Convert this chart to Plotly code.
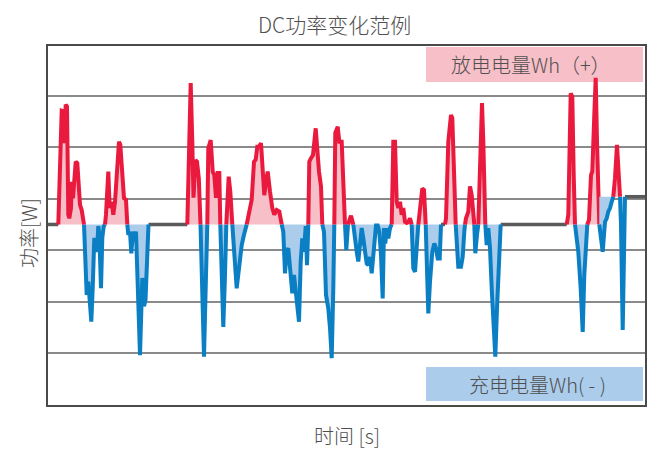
import plotly.graph_objects as go

# time [s] / power [W]
time_s = [
    0, 10.3, 13.7, 15.3, 16.3, 17.7, 19.0, 20.3, 21.3, 23.0, 23.7, 25.0, 26.3, 27.7, 29.3, 31.0, 32.0, 33.7,
    36.0, 38.0, 38.7, 40.3, 41.3, 43.3, 44.7, 46.3, 47.7, 49.3, 50.3, 51.3, 53.0, 54.3, 55.7,
    57.0, 58.0, 60.3, 61.7, 63.7, 65.3, 67.0, 69.3, 71.0, 72.3, 74.3, 76.0, 78.0,
    79.3, 80.3, 82.0, 83.3, 85.0, 86.3, 88.0, 89.7, 92.0, 94.3, 96.0, 97.5, 98.7,
    100.5, 139.3, 142.7, 144.3, 145.5, 147.5, 149.0, 150.8,
    152.5, 153.7, 156.0, 158.0,
    159.3, 160.3, 162.7, 164.7, 166.3, 168.0, 169.7, 171.3,
    172.3, 173.7, 175.3, 177.0,
    178.3, 179.7, 180.7, 182.3,
    184.3, 186.3, 188.7, 191.0, 193.7, 196.0,
    198.7, 202.0, 203.7, 206.0, 207.7, 209.3, 211.0, 213.0, 214.3, 216.3, 218.0, 219.7, 222.0, 224.3, 226.3, 228.7, 231.3,
    233.7, 235.3, 237.0, 238.7, 240.3, 242.7, 244.3, 246.0, 247.7, 249.3, 251.0, 252.7, 254.3, 256.0, 257.7, 259.0,
    260.3, 261.3, 263.0, 265.0, 267.7, 269.3, 271.0, 273.0,
    274.3, 276.0, 278.0, 280.3, 282.0, 283.7, 285.3,
    286.3, 287.3, 289.7, 291.3, 293.7, 295.3,
    297.0, 298.3, 300.0, 303.0, 305.3,
    307.0, 308.7, 310.3, 312.0, 313.7, 315.3, 317.0, 318.7, 320.3, 322.0, 323.7, 325.3, 326.3, 328.0, 329.7,
    331.3, 333.0, 334.7, 336.0, 337.3, 338.7, 340.3, 342.0,
    343.7, 345.3, 347.0, 348.7, 350.3, 352.0, 353.7, 355.3, 357.0, 358.7, 360.3, 362.0,
    363.7, 365.3, 367.0, 368.7,
    370.3, 372.0, 374.3, 376.0,
    377.7, 379.0, 380.3, 382.0, 384.3, 386.3, 388.0, 389.7, 391.7,
    393.0, 397.0, 398.0, 400.3, 402.0, 403.0, 404.3, 406.0,
    407.7, 409.0, 410.3, 413.0, 414.7, 416.3,
    417.0, 418.0, 420.3, 422.0, 423.7, 425.3,
    426.3, 427.3, 429.0,
    430.3, 432.0, 434.0, 435.3, 436.7,
    437.3, 438.7, 440.3, 442.0, 443.7, 445.7, 447.3, 449.0, 451.0,
    452.7, 518.7, 520.3, 522.7, 524.3, 525.7,
    527.0, 528.7, 530.3, 532.7, 534.7, 536.3, 538.0,
    539.3, 541.0, 543.0, 544.3, 546.3, 547.7, 549.0, 550.3, 551.3,
]
power_w = [
    0, 0, 221, 220, 158, 233, 229, 19, 12, 32, 83, 51, 77, 122, 119, 70, 38, 28,
    0, -112, -137, -111, -137, -189, -124, -26, -53, -40, -3, -20, -124, -26, -4,
    0, 19, 103, 32, 44, 19, 44, 122, 161, 155, 96, 51, 48,
    0, -20, -14, -56, -14, -26, -14, -98, -254, -104, -159, -147, -73,
    0, 0, 275, 160, 52, 125, 122, 90,
    0, -98, -257, -98,
    0, 148, 164, 103, 96, 52, 100, 100,
    0, -98, -199, -98,
    0, 44, 93, 64,
    0, -72, -124, -85, -40, -20,
    0, 28, 48, 122, 126, 151, 151, 158, 103, 57, 83, 103, 64, 32, 19, 28, 25,
    0, -14, -95, -53, -46, -98, -134, -98, -124, -150, -189, -72, -27, -53, -3, -79,
    0, 122, 129, 135, 187, 142, 103, 74,
    0, -14, -137, -163, -201, -260, -124,
    0, 178, 190, 161, 161, 96,
    0, -50, 0, 17, 0,
    -34, -53, -72, -40, -7, -27, -46, -76, -79, -63, -95, -59, -27, -2, -2,
    -14, -59, -144, -7, -37, -7, -27, -7,
    0, 161, 161, 44, 32, 44, 19, 32, 5, 3, 5, 12,
    0, -85, -92, -40,
    0, 32, 70, 67,
    0, -111, -173, -111, -53, -37, -46, -66, -66,
    0, 0, 12, 161, 213, 213, 207, 96,
    0, -59, -82, -82, -63, -14,
    0, 12, 25, 74, 57, 12,
    0, -56, -20,
    0, 122, 236, 161, 19,
    0, -40, -7, -46, -124, -202, -257, -163, -46,
    0, 0, 19, 255, 249, 96,
    0, -27, -53, -124, -209, -98, -40,
    0, 9, 96, 103, 213, 285, 161, 32, 0,
]

# last stretch sits on a raised base level
tail_base_w = 54
tail_time_s = [551.3, 554.7, 557.0, 558.7, 560.3, 562.0, 563.7, 565.3, 567.0, 569.0, 570.3,
               572.0, 573.0, 574.7, 576.3, 577.0, 600.0]
tail_power_w = [0, -53, 5, 12, 25, 32, 44, 54, 90, 155, 96,
                54, -1, -205, -72, 54, 54]

grid_w = [-250, -150, -50, 50, 150, 250]

RED = "#ea1a3f"
BLUE = "#0a7fc4"
PINK = "#f7bfc7"
LIGHT_BLUE = "#abcdeb"
GREY = "#5a5a5a"
TEXT = "#505050"
FONT = "Noto Sans CJK SC"

# the page body has an 8px margin, so the figure is shrunk by that much
OFF = 8
W, H = 669 - OFF, 452 - OFF
# plot area in window pixels
L, R, T, B = 48, 645, 46, 405


def px(x):
    return (x - L) / (R - L)


def py(y):
    return (B - y) / (B - T)


def add_segment(fig, t, p, base):
    xs, ys = [t[0]], [p[0]]
    for i in range(1, len(t)):
        a, b = p[i - 1] - base, p[i] - base
        if a * b < 0:
            xs.append(t[i - 1] + (t[i] - t[i - 1]) * a / (a - b))
            ys.append(base)
        xs.append(t[i])
        ys.append(p[i])
    n = len(xs)
    up = [max(v, base) for v in ys]
    dn = [min(v, base) for v in ys]
    for part, col in ((up, PINK), (dn, LIGHT_BLUE)):
        fig.add_trace(go.Scatter(x=xs, y=[base] * n, mode="lines", line=dict(width=0),
                                 hoverinfo="skip", showlegend=False))
        fig.add_trace(go.Scatter(x=xs, y=part, mode="lines", line=dict(width=0), fill="tonexty",
                                 fillcolor=col, hoverinfo="skip", showlegend=False))

    def pick(test):
        out = []
        for i, v in enumerate(ys):
            nb = [ys[j] for j in (i - 1, i + 1) if 0 <= j < n]
            keep = test(v) or (v == base and any(test(u) for u in nb))
            out.append(v if keep else None)
        return out

    flat = [v if (v == base and any(ys[j] == base for j in (i - 1, i + 1) if 0 <= j < n)) else None
            for i, v in enumerate(ys)]
    fig.add_trace(go.Scatter(x=xs, y=flat, mode="lines", line=dict(color=GREY, width=3.5),
                             hoverinfo="skip", showlegend=False))
    fig.add_trace(go.Scatter(x=xs, y=pick(lambda v: v < base), mode="lines",
                             line=dict(color=BLUE, width=4), showlegend=False))
    fig.add_trace(go.Scatter(x=xs, y=pick(lambda v: v > base), mode="lines",
                             line=dict(color=RED, width=4), showlegend=False))


fig = go.Figure()
add_segment(fig, time_s, power_w, 0)
add_segment(fig, tail_time_s, tail_power_w, tail_base_w)

label = dict(xref="paper", yref="paper", xanchor="center", yanchor="middle", showarrow=False)
fig.update_layout(
    width=W, height=H,
    margin=dict(l=L - OFF, r=W - (R - OFF), t=T - OFF, b=H - (B - OFF), pad=0),
    paper_bgcolor="white", plot_bgcolor="white",
    font=dict(family=FONT, color=TEXT, size=20),
    shapes=[
        dict(type="rect", xref="paper", yref="paper", x0=px(426), x1=px(643), y0=py(82), y1=py(47),
             fillcolor=PINK, line=dict(width=0), layer="below"),
        dict(type="rect", xref="paper", yref="paper", x0=px(426), x1=px(643), y0=py(401), y1=py(367),
             fillcolor=LIGHT_BLUE, line=dict(width=0), layer="below"),
    ],
    annotations=[
        dict(text="DC功率变化范例", x=px(334.5), y=py(24), font=dict(size=21, weight=300), **label),
        dict(text="放电电量Wh（+）", x=px(531), y=py(65), font=dict(size=20, weight=300), **label),
        dict(text="充电电量Wh( - )", x=px(537), y=py(384), font=dict(size=20, weight=300), **label),
        dict(text="时间 [s]", x=px(347), y=py(435), font=dict(size=20, weight=300), **label),
        dict(text="功率[W]", x=px(28), y=py(233), textangle=-90, font=dict(size=20, weight=300), **label),
    ],
)
fig.update_xaxes(range=[0, 597], showgrid=False, zeroline=False, showticklabels=False, ticks="",
                 showline=True, mirror=True, linecolor="#4a4a4a", linewidth=2)
fig.update_yaxes(range=[-351, 347], tickvals=grid_w, showgrid=True, gridcolor="#8a8a8a", gridwidth=1.5,
                 zeroline=False, showticklabels=False, ticks="",
                 showline=True, mirror=True, linecolor="#4a4a4a", linewidth=2)

fig.write_html("out.html")
